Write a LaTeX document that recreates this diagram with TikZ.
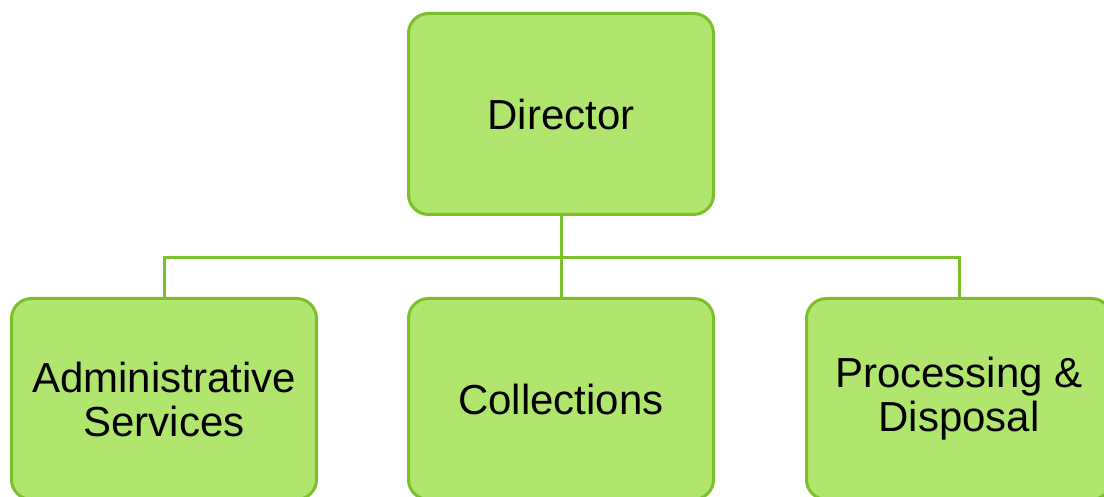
\documentclass[tikz,border=0pt]{standalone}
\usepackage{fontspec}
\setmainfont{Liberation Sans}
\definecolor{boxfill}{HTML}{B1E66E}
\definecolor{boxline}{HTML}{7BC02A}
\begin{document}
\begin{tikzpicture}[x=1pt,y=1pt,
  orgbox/.style={draw=boxline, fill=boxfill, line width=3pt, rounded corners=20pt,
    minimum width=305pt, minimum height=201pt, inner sep=0pt, outer sep=0pt,
    align=center, font=\fontsize{42}{44}\selectfont},
  link/.style={draw=boxline, line width=3pt}]
\clip (0,0) rectangle (1104,497);
\fill[white] (0,0) rectangle (1104,497);
\coordinate (bus) at (0,239);
\node[orgbox] (dir) at (561,383) {Director};
\node[orgbox] (admin) at (164,98) {Administrative\\Services};
\node[orgbox] (coll) at (561,98) {Collections};
\node[orgbox] (proc) at (959,98) {Processing \&\\Disposal};
\draw[link] (dir.south) -- (coll.north);
\draw[link] (admin.north) -- (admin.north |- bus) -- (proc.north |- bus) -- (proc.north);
\end{tikzpicture}
\end{document}
